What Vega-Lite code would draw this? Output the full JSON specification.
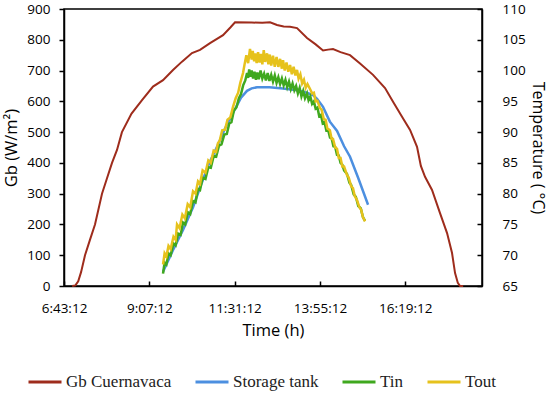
{
"$schema": "https://vega.github.io/schema/vega-lite/v6.json",
"width": 418, "height": 277,
"autosize": {"type": "none"},
"padding": {"left": 64, "top": 9, "right": 68, "bottom": 109},
"background": "white",
"data": {"values": [
{"s":"Gb Cuernavaca","t":6.95,"v":0},{"s":"Gb Cuernavaca","t":7.04,"v":2},{"s":"Gb Cuernavaca","t":7.12,"v":15},{"s":"Gb Cuernavaca","t":7.2,"v":45},{"s":"Gb Cuernavaca","t":7.311,"v":100},{"s":"Gb Cuernavaca","t":7.45,"v":150},{"s":"Gb Cuernavaca","t":7.592,"v":200},{"s":"Gb Cuernavaca","t":7.789,"v":300},{"s":"Gb Cuernavaca","t":7.93,"v":350},{"s":"Gb Cuernavaca","t":8.071,"v":400},{"s":"Gb Cuernavaca","t":8.211,"v":442},{"s":"Gb Cuernavaca","t":8.35,"v":500},{"s":"Gb Cuernavaca","t":8.62,"v":560},{"s":"Gb Cuernavaca","t":8.915,"v":604},{"s":"Gb Cuernavaca","t":9.224,"v":648},{"s":"Gb Cuernavaca","t":9.506,"v":669},{"s":"Gb Cuernavaca","t":9.787,"v":702},{"s":"Gb Cuernavaca","t":10.04,"v":729},{"s":"Gb Cuernavaca","t":10.32,"v":757},{"s":"Gb Cuernavaca","t":10.547,"v":767},{"s":"Gb Cuernavaca","t":10.828,"v":789},{"s":"Gb Cuernavaca","t":11.194,"v":815},{"s":"Gb Cuernavaca","t":11.4,"v":840},{"s":"Gb Cuernavaca","t":11.532,"v":857},{"s":"Gb Cuernavaca","t":12.0,"v":856},{"s":"Gb Cuernavaca","t":12.3,"v":855},{"s":"Gb Cuernavaca","t":12.516,"v":857},{"s":"Gb Cuernavaca","t":12.713,"v":848},{"s":"Gb Cuernavaca","t":12.9,"v":843},{"s":"Gb Cuernavaca","t":13.079,"v":842},{"s":"Gb Cuernavaca","t":13.276,"v":838},{"s":"Gb Cuernavaca","t":13.557,"v":806},{"s":"Gb Cuernavaca","t":13.8,"v":785},{"s":"Gb Cuernavaca","t":14.007,"v":765},{"s":"Gb Cuernavaca","t":14.15,"v":768},{"s":"Gb Cuernavaca","t":14.289,"v":770},{"s":"Gb Cuernavaca","t":14.5,"v":760},{"s":"Gb Cuernavaca","t":14.767,"v":750},{"s":"Gb Cuernavaca","t":15.049,"v":723},{"s":"Gb Cuernavaca","t":15.414,"v":686},{"s":"Gb Cuernavaca","t":15.752,"v":643},{"s":"Gb Cuernavaca","t":15.977,"v":599},{"s":"Gb Cuernavaca","t":16.23,"v":550},{"s":"Gb Cuernavaca","t":16.456,"v":507},{"s":"Gb Cuernavaca","t":16.652,"v":452},{"s":"Gb Cuernavaca","t":16.76,"v":390},{"s":"Gb Cuernavaca","t":16.877,"v":355},{"s":"Gb Cuernavaca","t":17.074,"v":312},{"s":"Gb Cuernavaca","t":17.299,"v":237},{"s":"Gb Cuernavaca","t":17.497,"v":172},{"s":"Gb Cuernavaca","t":17.637,"v":107},{"s":"Gb Cuernavaca","t":17.722,"v":42},{"s":"Gb Cuernavaca","t":17.8,"v":10},{"s":"Gb Cuernavaca","t":17.862,"v":0},{"s":"Gb Cuernavaca","t":17.95,"v":0},

{"s":"Storage tank","t":9.506,"v":67.3},{"s":"Storage tank","t":9.8,"v":71.0},{"s":"Storage tank","t":10.068,"v":74.1},{"s":"Storage tank","t":10.35,"v":77.8},{"s":"Storage tank","t":10.547,"v":81.0},{"s":"Storage tank","t":10.8,"v":84.9},{"s":"Storage tank","t":11.025,"v":87.6},{"s":"Storage tank","t":11.25,"v":90.6},{"s":"Storage tank","t":11.475,"v":93.1},{"s":"Storage tank","t":11.7,"v":95.6},{"s":"Storage tank","t":11.869,"v":96.7},{"s":"Storage tank","t":12.0,"v":97.1},{"s":"Storage tank","t":12.15,"v":97.3},{"s":"Storage tank","t":12.5,"v":97.3},{"s":"Storage tank","t":12.882,"v":97.1},{"s":"Storage tank","t":13.163,"v":96.9},{"s":"Storage tank","t":13.36,"v":96.7},{"s":"Storage tank","t":13.55,"v":96.4},{"s":"Storage tank","t":13.726,"v":96.0},{"s":"Storage tank","t":13.839,"v":95.4},{"s":"Storage tank","t":14.007,"v":94.1},{"s":"Storage tank","t":14.2,"v":91.7},{"s":"Storage tank","t":14.402,"v":90.2},{"s":"Storage tank","t":14.6,"v":87.7},{"s":"Storage tank","t":14.767,"v":86.0},{"s":"Storage tank","t":15.0,"v":82.5},{"s":"Storage tank","t":15.274,"v":78.2},

{"s":"Tin","t":9.506,"v":67.0},{"s":"Tin","t":9.55,"v":68.8},{"s":"Tin","t":9.6,"v":68.5},{"s":"Tin","t":9.66,"v":70.3},{"s":"Tin","t":9.72,"v":70.0},{"s":"Tin","t":9.8,"v":71.9},{"s":"Tin","t":9.86,"v":71.6},{"s":"Tin","t":9.93,"v":73.5},{"s":"Tin","t":10.0,"v":73.3},{"s":"Tin","t":10.068,"v":75.3},{"s":"Tin","t":10.13,"v":75.0},{"s":"Tin","t":10.2,"v":77.0},{"s":"Tin","t":10.27,"v":76.7},{"s":"Tin","t":10.35,"v":78.8},{"s":"Tin","t":10.42,"v":78.6},{"s":"Tin","t":10.49,"v":80.8},{"s":"Tin","t":10.547,"v":80.6},{"s":"Tin","t":10.62,"v":82.6},{"s":"Tin","t":10.7,"v":82.4},{"s":"Tin","t":10.78,"v":84.3},{"s":"Tin","t":10.85,"v":84.2},{"s":"Tin","t":10.93,"v":86.1},{"s":"Tin","t":11.0,"v":86.0},{"s":"Tin","t":11.08,"v":87.8},{"s":"Tin","t":11.15,"v":88.0},{"s":"Tin","t":11.23,"v":89.6},{"s":"Tin","t":11.3,"v":89.7},{"s":"Tin","t":11.37,"v":91.4},{"s":"Tin","t":11.43,"v":91.6},{"s":"Tin","t":11.5,"v":93.5},{"s":"Tin","t":11.57,"v":94.0},{"s":"Tin","t":11.64,"v":95.5},{"s":"Tin","t":11.7,"v":96.2},{"s":"Tin","t":11.76,"v":97.6},{"s":"Tin","t":11.82,"v":98.4},{"s":"Tin","t":11.87,"v":99.6},{"s":"Tin","t":11.9,"v":98.8},{"s":"Tin","t":11.93,"v":100.2},{"s":"Tin","t":11.96,"v":99.0},{"s":"Tin","t":12.0,"v":100.0},{"s":"Tin","t":12.04,"v":98.7},{"s":"Tin","t":12.08,"v":99.8},{"s":"Tin","t":12.12,"v":98.5},{"s":"Tin","t":12.16,"v":99.7},{"s":"Tin","t":12.2,"v":98.6},{"s":"Tin","t":12.25,"v":100.0},{"s":"Tin","t":12.3,"v":98.7},{"s":"Tin","t":12.35,"v":99.5},{"s":"Tin","t":12.4,"v":98.4},{"s":"Tin","t":12.45,"v":99.6},{"s":"Tin","t":12.5,"v":98.3},{"s":"Tin","t":12.55,"v":99.3},{"s":"Tin","t":12.6,"v":98.2},{"s":"Tin","t":12.65,"v":99.2},{"s":"Tin","t":12.7,"v":98.0},{"s":"Tin","t":12.75,"v":98.9},{"s":"Tin","t":12.8,"v":97.8},{"s":"Tin","t":12.85,"v":98.7},{"s":"Tin","t":12.9,"v":97.6},{"s":"Tin","t":12.95,"v":98.5},{"s":"Tin","t":13.0,"v":97.3},{"s":"Tin","t":13.05,"v":98.2},{"s":"Tin","t":13.1,"v":97.0},{"s":"Tin","t":13.15,"v":97.9},{"s":"Tin","t":13.2,"v":96.8},{"s":"Tin","t":13.25,"v":97.5},{"s":"Tin","t":13.3,"v":96.3},{"s":"Tin","t":13.35,"v":97.2},{"s":"Tin","t":13.4,"v":95.8},{"s":"Tin","t":13.45,"v":96.7},{"s":"Tin","t":13.5,"v":95.5},{"s":"Tin","t":13.557,"v":96.3},{"s":"Tin","t":13.6,"v":95.2},{"s":"Tin","t":13.65,"v":95.8},{"s":"Tin","t":13.7,"v":94.6},{"s":"Tin","t":13.75,"v":95.0},{"s":"Tin","t":13.8,"v":93.8},{"s":"Tin","t":13.85,"v":94.0},{"s":"Tin","t":13.9,"v":92.6},{"s":"Tin","t":13.95,"v":92.8},{"s":"Tin","t":14.0,"v":91.4},{"s":"Tin","t":14.05,"v":91.6},{"s":"Tin","t":14.1,"v":90.3},{"s":"Tin","t":14.15,"v":90.4},{"s":"Tin","t":14.204,"v":89.1},{"s":"Tin","t":14.25,"v":89.0},{"s":"Tin","t":14.3,"v":87.7},{"s":"Tin","t":14.35,"v":87.6},{"s":"Tin","t":14.4,"v":86.3},{"s":"Tin","t":14.45,"v":86.2},{"s":"Tin","t":14.5,"v":85.0},{"s":"Tin","t":14.55,"v":84.7},{"s":"Tin","t":14.6,"v":83.8},{"s":"Tin","t":14.683,"v":83.2},{"s":"Tin","t":14.75,"v":81.8},{"s":"Tin","t":14.8,"v":81.4},{"s":"Tin","t":14.87,"v":79.9},{"s":"Tin","t":14.93,"v":79.5},{"s":"Tin","t":15.0,"v":78.0},{"s":"Tin","t":15.07,"v":77.6},{"s":"Tin","t":15.13,"v":76.2},{"s":"Tin","t":15.19,"v":75.6},

{"s":"Tout","t":9.506,"v":68.5},{"s":"Tout","t":9.55,"v":70.3},{"s":"Tout","t":9.6,"v":69.8},{"s":"Tout","t":9.66,"v":71.5},{"s":"Tout","t":9.72,"v":71.0},{"s":"Tout","t":9.8,"v":73.0},{"s":"Tout","t":9.86,"v":72.5},{"s":"Tout","t":9.9,"v":75.0},{"s":"Tout","t":9.97,"v":74.4},{"s":"Tout","t":10.05,"v":76.6},{"s":"Tout","t":10.12,"v":76.0},{"s":"Tout","t":10.2,"v":78.3},{"s":"Tout","t":10.27,"v":77.8},{"s":"Tout","t":10.35,"v":80.4},{"s":"Tout","t":10.42,"v":80.0},{"s":"Tout","t":10.49,"v":82.0},{"s":"Tout","t":10.547,"v":81.6},{"s":"Tout","t":10.62,"v":83.8},{"s":"Tout","t":10.7,"v":83.4},{"s":"Tout","t":10.78,"v":85.4},{"s":"Tout","t":10.85,"v":85.0},{"s":"Tout","t":10.93,"v":87.0},{"s":"Tout","t":11.0,"v":86.8},{"s":"Tout","t":11.05,"v":88.2},{"s":"Tout","t":11.1,"v":88.6},{"s":"Tout","t":11.17,"v":90.3},{"s":"Tout","t":11.25,"v":90.4},{"s":"Tout","t":11.32,"v":92.0},{"s":"Tout","t":11.4,"v":92.4},{"s":"Tout","t":11.475,"v":94.1},{"s":"Tout","t":11.55,"v":95.5},{"s":"Tout","t":11.62,"v":96.4},{"s":"Tout","t":11.68,"v":98.0},{"s":"Tout","t":11.757,"v":99.6},{"s":"Tout","t":11.8,"v":101.0},{"s":"Tout","t":11.85,"v":102.5},{"s":"Tout","t":11.9,"v":101.2},{"s":"Tout","t":11.953,"v":103.5},{"s":"Tout","t":12.0,"v":101.8},{"s":"Tout","t":12.03,"v":103.2},{"s":"Tout","t":12.07,"v":101.5},{"s":"Tout","t":12.1,"v":102.8},{"s":"Tout","t":12.14,"v":101.2},{"s":"Tout","t":12.18,"v":103.0},{"s":"Tout","t":12.22,"v":101.3},{"s":"Tout","t":12.26,"v":102.7},{"s":"Tout","t":12.3,"v":101.0},{"s":"Tout","t":12.34,"v":103.3},{"s":"Tout","t":12.38,"v":101.4},{"s":"Tout","t":12.432,"v":102.8},{"s":"Tout","t":12.47,"v":101.0},{"s":"Tout","t":12.51,"v":102.6},{"s":"Tout","t":12.55,"v":100.8},{"s":"Tout","t":12.6,"v":102.4},{"s":"Tout","t":12.65,"v":100.6},{"s":"Tout","t":12.7,"v":102.2},{"s":"Tout","t":12.75,"v":100.6},{"s":"Tout","t":12.8,"v":101.9},{"s":"Tout","t":12.85,"v":100.3},{"s":"Tout","t":12.882,"v":101.7},{"s":"Tout","t":12.93,"v":100.0},{"s":"Tout","t":12.98,"v":101.3},{"s":"Tout","t":13.03,"v":99.8},{"s":"Tout","t":13.08,"v":100.9},{"s":"Tout","t":13.13,"v":99.4},{"s":"Tout","t":13.18,"v":100.6},{"s":"Tout","t":13.23,"v":99.2},{"s":"Tout","t":13.276,"v":100.1},{"s":"Tout","t":13.32,"v":98.7},{"s":"Tout","t":13.37,"v":99.4},{"s":"Tout","t":13.42,"v":97.9},{"s":"Tout","t":13.47,"v":98.5},{"s":"Tout","t":13.52,"v":97.2},{"s":"Tout","t":13.57,"v":97.8},{"s":"Tout","t":13.642,"v":97.0},{"s":"Tout","t":13.7,"v":96.3},{"s":"Tout","t":13.75,"v":96.4},{"s":"Tout","t":13.8,"v":95.0},{"s":"Tout","t":13.85,"v":95.1},{"s":"Tout","t":13.923,"v":93.9},{"s":"Tout","t":13.97,"v":93.6},{"s":"Tout","t":14.03,"v":92.1},{"s":"Tout","t":14.08,"v":92.0},{"s":"Tout","t":14.13,"v":90.6},{"s":"Tout","t":14.2,"v":90.3},{"s":"Tout","t":14.25,"v":88.9},{"s":"Tout","t":14.289,"v":88.9},{"s":"Tout","t":14.35,"v":87.5},{"s":"Tout","t":14.4,"v":87.3},{"s":"Tout","t":14.45,"v":85.8},{"s":"Tout","t":14.5,"v":85.8},{"s":"Tout","t":14.55,"v":84.4},{"s":"Tout","t":14.6,"v":84.4},{"s":"Tout","t":14.683,"v":83.0},{"s":"Tout","t":14.73,"v":82.6},{"s":"Tout","t":14.8,"v":81.2},{"s":"Tout","t":14.85,"v":80.9},{"s":"Tout","t":14.9,"v":79.6},{"s":"Tout","t":14.96,"v":79.0},{"s":"Tout","t":15.03,"v":77.8},{"s":"Tout","t":15.08,"v":77.4},{"s":"Tout","t":15.13,"v":76.2},{"s":"Tout","t":15.19,"v":75.5}
]},
"layer": [
{
"transform": [{"filter": "datum.s == 'Gb Cuernavaca'"}],
"mark": {"type": "line", "strokeWidth": 2},
"encoding": {
"x": {"field": "t", "type": "quantitative", "scale": {"domain": [6.72, 18.48], "nice": false, "zero": false},
"axis": {"title": "Time (h)", "values": [6.72, 9.12, 11.52, 13.92, 16.32], "labelExpr": "timeFormat(datetime(2000,0,1,0,0,round(datum.value*3600)), '%-H:%M:%S')", "tickSize": -5, "labelPadding": 20, "titlePadding": 8, "labelFlush": false}},
"y": {"field": "v", "type": "quantitative", "scale": {"domain": [0, 900], "nice": false},
"axis": {"title": "Gb (W/m²)", "values": [0,100,200,300,400,500,600,700,800,900], "tickSize": 5, "labelPadding": 9, "titlePadding": 7}},
"color": {"field": "s", "type": "nominal", "scale": {"domain": ["Gb Cuernavaca", "Storage tank", "Tin", "Tout"], "range": ["#9E2C1C", "#4C8FE0", "#3FA81E", "#E6C21C"]},
"legend": {"title": null, "orient": "none", "direction": "horizontal", "legendX": -37, "legendY": 355, "symbolType": "stroke", "symbolSize": 1089, "symbolStrokeWidth": 3, "labelFont": "'Liberation Serif', 'DejaVu Serif', serif", "labelFontSize": 17, "labelColor": "#222", "labelOffset": 3, "columnPadding": 17, "labelLimit": 300}}
}
},
{
"transform": [{"filter": "datum.s != 'Gb Cuernavaca'"}],
"mark": {"type": "line", "strokeWidth": 2.5},
"encoding": {
"x": {"field": "t", "type": "quantitative"},
"y": {"field": "v", "type": "quantitative", "scale": {"domain": [65, 110], "nice": false, "zero": false},
"axis": {"orient": "right", "title": "Temperature ( °C)", "values": [65,70,75,80,85,90,95,100,105,110], "tickSize": -5, "labelPadding": 25, "titlePadding": 4, "titleFontSize": 16}},
"color": {"field": "s", "type": "nominal"}
}
}
],
"resolve": {"scale": {"y": "independent"}},
"config": {
"view": {"stroke": "black", "strokeWidth": 1.5},
"legend": {"labelFont": "'Liberation Serif', 'DejaVu Serif', serif"},
"axis": {"grid": false, "domainColor": "black", "domainWidth": 1.5, "tickColor": "black", "tickWidth": 1.5, "labelFont": "Open Sans", "labelFontSize": 13.5, "labelColor": "black", "titleFont": "Open Sans", "titleFontSize": 16.5, "titleFontWeight": "normal", "titleColor": "black"}
}
}
